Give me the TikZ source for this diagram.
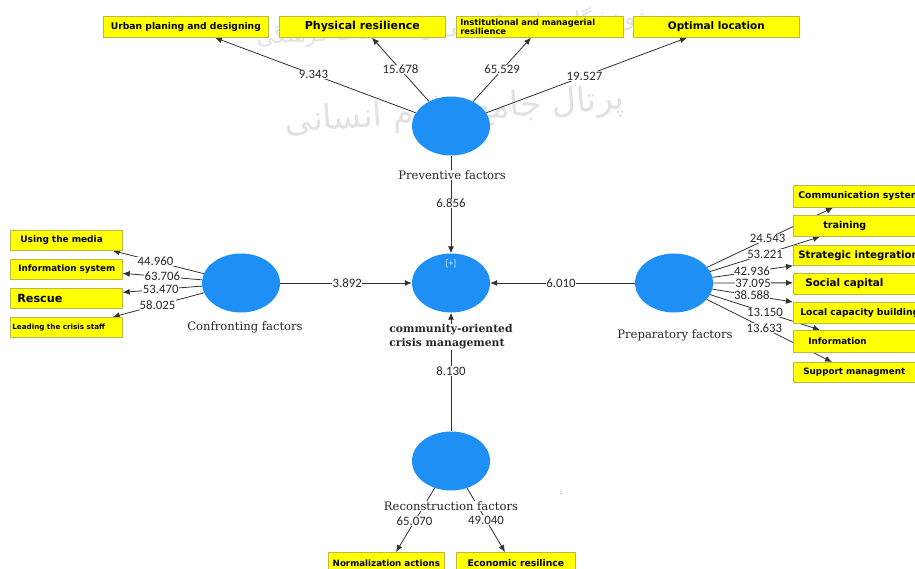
\documentclass[tikz,border=0pt]{standalone}
\usepackage{fontspec}
\setmainfont{DejaVu Serif}
\newfontfamily\boxfont{DejaVu Sans}
\newfontfamily\numfont{Carlito}
\newfontfamily\arabicfont[Script=Arabic]{DejaVu Sans}
\TeXXeTstate=1
\usetikzlibrary{arrows.meta,calc,shapes.geometric}
\pgfdeclarelayer{back}
\pgfdeclarelayer{wml}
\pgfdeclarelayer{bg}
\pgfsetlayers{back,wml,bg,main}
\definecolor{lvblue}{RGB}{30,144,245}
\definecolor{ybg}{RGB}{255,255,0}
\definecolor{yedge}{RGB}{185,185,70}
\definecolor{lgray}{RGB}{50,50,50}
\definecolor{numgray}{RGB}{40,40,40}
\definecolor{wmgray}{RGB}{226,226,226}
\definecolor{plusc}{RGB}{215,235,255}
\newcommand\myfs[1]{\fontsize{#1}{#1}\selectfont}
\begin{document}
\begin{tikzpicture}[x=1pt,y=-1pt,
  lv/.style={ellipse, fill=lvblue, minimum width=78pt, minimum height=59pt, inner sep=0pt},
  ybox/.style={rectangle, fill=ybg, draw=yedge, line width=0.7pt, anchor=north west, inner ysep=0pt, minimum height=21pt},
  cbox/.style={ybox, inner xsep=0pt},
  lbox/.style={ybox, align=left, inner xsep=0pt},
  conn/.style={draw=lgray, line width=0.8pt, -{Latex[length=7pt,width=6pt]}},
  num/.style={fill=white, inner sep=0.5pt, font=\numfont\myfs{12.8}, text=numgray},
  fact/.style={fill=white, inner sep=1pt, font=\myfs{11.6}, text=black!85},
]
\useasboundingbox (0,0) rectangle (915,568);
\begin{pgfonlayer}{back}
\fill[white] (0,0) rectangle (915,568);
\end{pgfonlayer}
\clip (0,0) rectangle (915,568);

% watermark
\begin{pgfonlayer}{wml}
\node[text=wmgray, font=\arabicfont\myfs{22}, rotate=3] (wma) at (455,27) {\beginR پژوهشگاه علوم انسانی و مطالعات فرهنگی\endR};
\node[text=wmgray, font=\arabicfont\myfs{34}, rotate=4] (wmb) at (455,112) {\beginR پرتال جامع علوم انسانی\endR};
\end{pgfonlayer}

% latent variables
\node[lv] (prev) at (451,126) {};
\node[lv] (cent) at (451,283) {};
\node[lv] (conf) at (241,283) {};
\node[lv] (prep) at (674,283) {};
\node[lv] (recon) at (451,461) {};
\node[text=plusc, font=\numfont\myfs{9.5}] (plus) at (451,264) {[+]};

% top boxes
\node[cbox, minimum width=165pt, font=\boxfont\bfseries\myfs{9.2}] (urban) at (103,16) {Urban planing and designing};
\node[cbox, minimum width=166pt, font=\boxfont\bfseries\myfs{11}] (phys) at (279,16) {Physical resilience};
\node[lbox, text width=167pt, font=\boxfont\bfseries\fontsize{8.4}{9}\selectfont] (inst) at (456,16) {\hspace*{4pt}Institutional and managerial\\\hspace*{4pt}resilience};
\node[cbox, minimum width=166pt, font=\boxfont\bfseries\myfs{10.4}] (opt) at (633,16) {Optimal location};

% left boxes
\node[lbox, text width=112pt, minimum height=20pt, font=\boxfont\bfseries\myfs{9}] (media) at (10,230) {\hspace*{10pt}Using the media};
\node[lbox, text width=112pt, minimum height=20pt, font=\boxfont\bfseries\myfs{8.8}] (infosys) at (10,259) {\hspace*{8pt}Information system};
\node[lbox, text width=112pt, minimum height=20pt, font=\boxfont\bfseries\myfs{11.2}] (rescue) at (10,288) {\hspace*{7pt}Rescue};
\node[lbox, text width=112pt, minimum height=20pt, font=\boxfont\bfseries\myfs{7.2}] (leading) at (10,317) {\hspace*{2pt}Leading the crisis staff};

% right boxes
\node[lbox, text width=150pt, minimum height=22pt, font=\boxfont\bfseries\myfs{9.3}] (comm) at (793,185) {\hspace*{5pt}Communication system};
\node[lbox, text width=150pt, minimum height=21pt, font=\boxfont\bfseries\myfs{9.6}] (train) at (793,215) {\hspace*{30pt}training};
\node[lbox, text width=150pt, minimum height=20pt, font=\boxfont\bfseries\myfs{10.2}] (strat) at (793,245) {\hspace*{5pt}Strategic integration};
\node[lbox, text width=150pt, minimum height=21pt, font=\boxfont\bfseries\myfs{10.4}] (social) at (793,273) {\hspace*{12pt}Social capital};
\node[lbox, text width=150pt, minimum height=21pt, font=\boxfont\bfseries\myfs{9.2}] (local) at (793,302) {\hspace*{7pt}Local capacity building};
\node[lbox, text width=150pt, minimum height=22pt, font=\boxfont\bfseries\myfs{8.8}] (info) at (793,330) {\hspace*{15pt}Information};
\node[lbox, text width=150pt, minimum height=20pt, font=\boxfont\bfseries\myfs{8.8}] (supp) at (793,362) {\hspace*{10pt}Support managment};

% bottom boxes
\node[cbox, minimum width=116pt, minimum height=22pt, font=\boxfont\bfseries\myfs{8.7}] (norm) at (328,552) {Normalization actions};
\node[cbox, minimum width=119pt, minimum height=22pt, font=\boxfont\bfseries\myfs{9.2}] (econ) at (456,552) {Economic resilince};

% connectors
\begin{pgfonlayer}{bg}
\draw[conn] (prev) -- node[num,pos=0.51]{9.343} ($(urban.south west)+(112,0)$);
\draw[conn] (prev) -- node[num,pos=0.5]{15.678} ($(phys.south west)+(93,0)$);
\draw[conn] (prev) -- node[num,pos=0.5]{65.529} ($(inst.south west)+(75,0)$);
\draw[conn] (prev) -- node[num,pos=0.49]{19.527} ($(opt.south west)+(54,0)$);

\draw[conn] (prev) -- node[num,pos=0.49]{6.856} (cent);
\draw[conn] (conf) -- node[num,pos=0.51]{3.892} (cent);
\draw[conn] (prep) -- node[num,pos=0.51]{6.010} (cent);
\draw[conn] (recon) -- node[num,pos=0.51]{8.130} (cent);

\draw[conn] (conf) -- node[num,pos=0.53]{44.960} ($(media.south east)+(-10,0)$);
\draw[conn] (conf) -- node[num,pos=0.5]{63.706} ($(infosys.east)+(0,4)$);
\draw[conn] (conf) -- node[num,pos=0.52]{53.470} ($(rescue.east)+(0,-6)$);
\draw[conn] (conf) -- node[num,pos=0.51]{58.025} ($(leading.north east)+(-10,0)$);

\draw[conn] (prep) -- node[num,pos=0.48]{24.543} ($(comm.south west)+(40,0)$);
\draw[conn] (prep) -- node[num,pos=0.5]{53.221} ($(train.south west)+(27,0)$);
\draw[conn] (prep) -- node[num,pos=0.49]{42.936} (strat.south west);
\draw[conn] (prep) -- node[num,pos=0.5]{37.095} ($(social.west)+(0,-1)$);
\draw[conn] (prep) -- node[num,pos=0.49]{38.588} (local.north west);
\draw[conn] (prep) -- node[num,pos=0.5]{13.150} ($(info.north west)+(27,0)$);
\draw[conn] (prep) -- node[num,pos=0.46]{13.633} ($(supp.north west)+(39,0)$);

\draw[conn] (recon) -- node[num,pos=0.52]{65.070} ($(norm.north west)+(68,0)$);
\draw[conn] (recon) -- node[num,pos=0.5]{49.040} ($(econ.north west)+(49,0)$);
\end{pgfonlayer}

% factor labels
\node[fact] (prevlab) at (452,175) {Preventive factors};
\node[fact] (conflab) at (245,327) {Confronting factors};
\node[fact] (preplab) at (675,335) {Preparatory factors};
\node[fact, font=\bfseries\fontsize{10.8}{14}\selectfont, align=left] (centlab) at (451,337) {community-oriented\\crisis management};
\node[fact] (reconlab) at (451,506) {Reconstruction factors};
\node[text=gray, font=\myfs{8}] (colon) at (561,493) {:};
\end{tikzpicture}
\end{document}
